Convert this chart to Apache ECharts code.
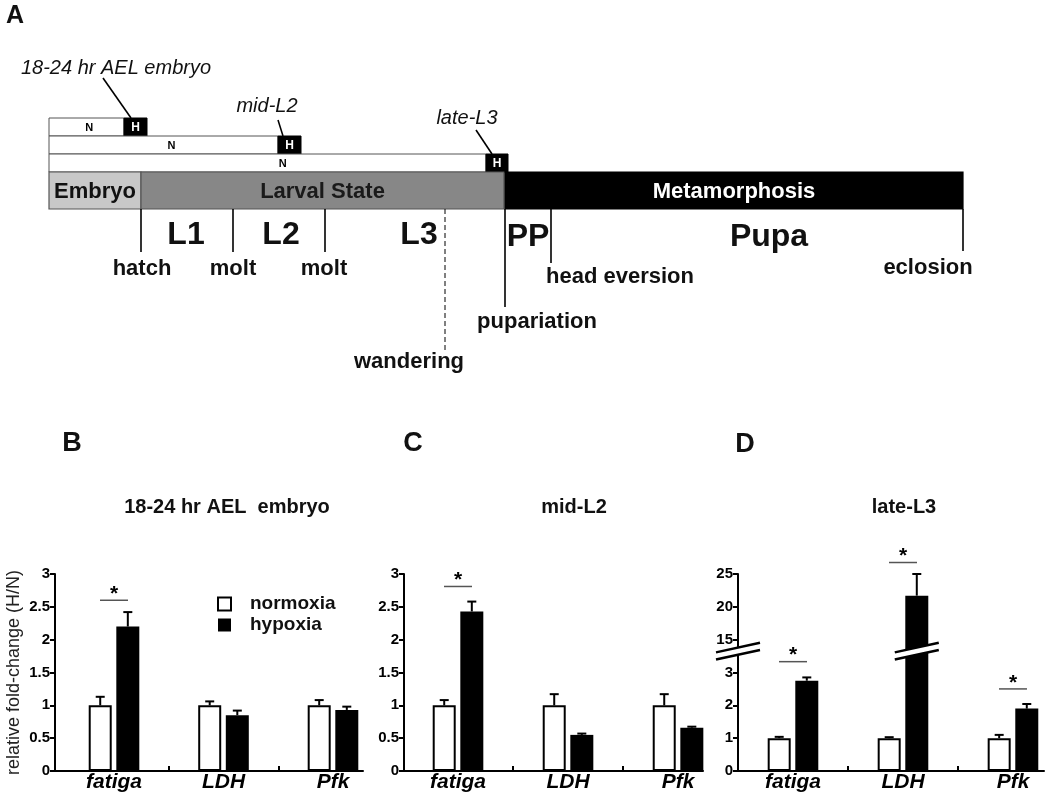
<!DOCTYPE html>
<html>
<head>
<meta charset="utf-8">
<script src="https://cdn.jsdelivr.net/npm/echarts@6/dist/echarts.min.js"></script>
<style>
  html, body { margin: 0; padding: 0; background: #fff; }
  #chart { width: 1047px; height: 800px; }
</style>
</head>
<body>
<div id="chart"></div>
<script>
const FONT = '"Liberation Sans", Arial, sans-serif';

// ---- bar panels B, C, D ----
const genes = ['fatiga', 'LDH', 'Pfk'];

// B: 18-24 hr AEL embryo
const embryoN = [1.0, 1.0, 1.0];
const embryoNErr = [0.13, 0.06, 0.08];
const embryoH = [2.2, 0.85, 0.93];
const embryoHErr = [0.22, 0.07, 0.05];
const embryoSig = [2.6, null, null];

// C: mid-L2
const midL2N = [1.0, 1.0, 1.0];
const midL2NErr = [0.08, 0.17, 0.17];
const midL2H = [2.43, 0.55, 0.66];
const midL2HErr = [0.15, 0.02, 0.015];
const midL2Sig = [2.81, null, null];

// D: late-L3 (broken axis 3 -> 15)
const lateL3N = [1.0, 1.0, 1.0];
const lateL3NErr = [0.04, 0.03, 0.1];
const lateL3H = [2.75, 21.7, 1.9];
const lateL3HErr = [0.1, 3.3, 0.14];
const lateL3Sig = [3.33, 6.35, 2.5]; // in axis steps, not values
const ticksD = ['0', '1', '2', '3', '15', '20', '25'];

// ---- panel A: schematic timeline (arbitrary time units) ----
const phaseNames = ['Embryo', 'Larval State', 'Metamorphosis'];
const phaseStart = [0, 92, 456];
const phaseEnd = [92, 455, 914];
const instarNames = ['L1', 'L2', 'L3', 'PP', 'Pupa'];
const instarPos = [137, 232, 370, 479, 720];
const eventNames = ['hatch', 'molt', 'molt', 'wandering', 'pupariation', 'head eversion', 'eclosion'];
const eventPos = [92, 184, 276, 396, 456, 502, 914];
const stageNames = ['18-24 hr AEL embryo', 'mid-L2', 'late-L3'];
const hypoxiaStart = [75, 229, 437];
const hypoxiaEnd = [98, 252, 459];

// layout for the schematic (page px in y, time units in x)
const rowTop = [118, 136, 154];
const rowH = 18;
const phaseTop = 172, phaseBottom = 209;
const phaseFill = ['#c8c8c8', '#878787', '#000'];
const phaseStroke = ['#555', '#555', '#000'];
const phaseText = ['#111', '#1a1a1a', '#fff'];
const eventDrop = [252, 252, 252, 353, 307, 263, 251];
const eventLabelDx = [1, 0, -1, -36, 32, 69, -35];
const eventLabelY = [269, 269, 269, 362, 322, 277, 268];
const instarY = [235, 235, 235, 237, 237];
const pointerFrom = [[-21, 78], [0, 120], [-10, 130]];
const pointerToDx = [7, 5, 6];
const stageLabel = [[-8, 68], [-11, 106], [-19, 118]];

const chart = echarts.init(document.getElementById('chart'));

function brokenD(v) {
  return v <= 3 ? v : 4 + (v - 15) / 5;
}
const identity = v => v;

const panels = [
  { n: embryoN, nErr: embryoNErr, h: embryoH, hErr: embryoHErr, sig: embryoSig, f: identity },
  { n: midL2N, nErr: midL2NErr, h: midL2H, hErr: midL2HErr, sig: midL2Sig, f: identity },
  { n: lateL3N, nErr: lateL3NErr, h: lateL3H, hErr: lateL3HErr, sig: lateL3Sig, f: brokenD }
];
const gridLeft = [55, 404, 738];
const gridWidth = [308, 299, 306];
const xMin = [-0.539, -0.491, -0.5];
const xMax = [2.274, 2.227, 2.282];
const BAR_W = 23, HALF = 13.8;

const grids = [], xAxes = [], yAxes = [], series = [];

panels.forEach((p, i) => {
  grids.push({ left: gridLeft[i], top: 574, width: gridWidth[i], height: 197 });
  xAxes.push({
    type: 'value', gridIndex: i, min: xMin[i], max: xMax[i],
    axisLine: { show: true, onZero: false, lineStyle: { color: '#000', width: 2 } },
    axisTick: { show: true, inside: true, length: 5, customValues: [0.5, 1.5], lineStyle: { color: '#000', width: 2 } },
    axisLabel: {
      show: true, customValues: [0, 1, 2], formatter: v => genes[Math.round(v)],
      margin: 1, color: '#000', fontSize: 21, fontWeight: 'bold', fontStyle: 'italic', fontFamily: FONT
    },
    splitLine: { show: false }
  });
  yAxes.push({
    type: 'value', gridIndex: i, min: 0, max: i < 2 ? 3 : 6, interval: i < 2 ? 0.5 : 1,
    axisLine: { show: true, onZero: false, lineStyle: { color: '#000', width: 2 } },
    axisTick: { show: true, length: 5, lineStyle: { color: '#000', width: 2 } },
    axisLabel: {
      margin: 5, color: '#000', fontSize: 15, fontWeight: 'bold', fontFamily: FONT,
      formatter: i < 2 ? (v => String(v)) : (v => ticksD[v])
    },
    splitLine: { show: false },
    name: i === 0 ? 'relative fold-change (H/N)' : '',
    nameLocation: 'middle', nameGap: 32,
    nameTextStyle: { fontSize: 18, color: '#222', fontFamily: FONT }
  });

  series.push({
    type: 'bar', name: 'normoxia', xAxisIndex: i, yAxisIndex: i,
    barWidth: BAR_W, barGap: '20%', silent: true,
    itemStyle: { color: '#fff', borderColor: '#000', borderWidth: 2 },
    data: genes.map((g, j) => [j, p.f(p.n[j])])
  });
  series.push({
    type: 'bar', name: 'hypoxia', xAxisIndex: i, yAxisIndex: i,
    barWidth: BAR_W, barGap: '20%', silent: true,
    itemStyle: { color: '#000' },
    data: genes.map((g, j) => [j, p.f(p.h[j])])
  });

  const errData = [];
  genes.forEach((g, j) => {
    errData.push([j, p.f(p.n[j]), p.f(p.n[j] + p.nErr[j]), -1]);
    errData.push([j, p.f(p.h[j]), p.f(p.h[j] + p.hErr[j]), 1]);
  });
  series.push({
    type: 'custom', xAxisIndex: i, yAxisIndex: i, silent: true, z: 3,
    data: errData,
    renderItem(params, api) {
      const lo = api.coord([api.value(0), api.value(1)]);
      const hi = api.coord([api.value(0), api.value(2)]);
      const x = lo[0] + api.value(3) * HALF;
      const st = { stroke: '#000', lineWidth: 2 };
      return {
        type: 'group', children: [
          { type: 'line', shape: { x1: x, y1: lo[1], x2: x, y2: hi[1] }, style: st },
          { type: 'line', shape: { x1: x - 4.5, y1: hi[1], x2: x + 4.5, y2: hi[1] }, style: st }
        ]
      };
    }
  });

  series.push({
    type: 'custom', xAxisIndex: i, yAxisIndex: i, silent: true, z: 3,
    data: p.sig.map((s, j) => [j, s]).filter(d => d[1] !== null),
    renderItem(params, api) {
      const c = api.coord([api.value(0), api.value(1)]);
      return {
        type: 'group', children: [
          { type: 'line', shape: { x1: c[0] - 14, y1: c[1], x2: c[0] + 14, y2: c[1] }, style: { stroke: '#555', lineWidth: 1.5 } },
          { type: 'text', style: { text: '*', x: c[0], y: c[1] - 6, align: 'center', verticalAlign: 'middle', font: 'bold 21px ' + FONT, fill: '#000' } }
        ]
      };
    }
  });
});

// break marks on panel D (axis line and the tall LDH bar)
const breakMarksD = [[xMin[2], 3.65, 0], [1, 3.65, 1]];
series.push({
  type: 'custom', xAxisIndex: 2, yAxisIndex: 2, silent: true, z: 5,
  data: breakMarksD,
  renderItem(params, api) {
    const c = api.coord([api.value(0), api.value(1)]);
    const cx = c[0] + api.value(2) * HALF, cy = c[1];
    const dx = 22, dy = 4.8, t = 3.6;
    return {
      type: 'group', children: [
        { type: 'polygon', shape: { points: [[cx - dx, cy + dy - t], [cx + dx, cy - dy - t], [cx + dx, cy - dy + t], [cx - dx, cy + dy + t]] }, style: { fill: '#fff' } },
        { type: 'line', shape: { x1: cx - dx, y1: cy + dy - t, x2: cx + dx, y2: cy - dy - t }, style: { stroke: '#000', lineWidth: 2.5 } },
        { type: 'line', shape: { x1: cx - dx, y1: cy + dy + t, x2: cx + dx, y2: cy - dy + t }, style: { stroke: '#000', lineWidth: 2.5 } }
      ]
    };
  }
});

// ---- panel A ----
grids.push({ left: 49, top: 40, width: 914, height: 340 });
xAxes.push({ type: 'value', gridIndex: 3, min: 0, max: 914, show: false });
yAxes.push({ type: 'value', gridIndex: 3, min: 40, max: 380, inverse: true, show: false });

// exposure rows (N then H)
series.push({
  type: 'custom', xAxisIndex: 3, yAxisIndex: 3, silent: true,
  data: stageNames.map((s, i) => [hypoxiaStart[i], hypoxiaEnd[i]]),
  renderItem(params, api) {
    const i = params.dataIndex;
    const s = api.value(0), e = api.value(1);
    const a = api.coord([0, rowTop[i]]);
    const b = api.coord([s, rowTop[i] + rowH]);
    const c = api.coord([e, rowTop[i]]);
    const pf = api.coord([s + pointerFrom[i][0], pointerFrom[i][1]]);
    const pt = api.coord([s + pointerToDx[i], rowTop[i]]);
    const lb = api.coord([s + stageLabel[i][0], stageLabel[i][1]]);
    return {
      type: 'group', children: [
        { type: 'rect', shape: { x: a[0], y: a[1], width: b[0] - a[0], height: b[1] - a[1] }, style: { fill: '#fff', stroke: '#555', lineWidth: 1 } },
        { type: 'rect', shape: { x: b[0], y: a[1], width: c[0] - b[0], height: b[1] - a[1] }, style: { fill: '#000', stroke: '#000', lineWidth: 1 } },
        { type: 'text', style: { text: 'N', x: a[0] + 0.535 * (b[0] - a[0]), y: (a[1] + b[1]) / 2 + 1, align: 'center', verticalAlign: 'middle', font: 'bold 11px ' + FONT, fill: '#000' } },
        { type: 'text', style: { text: 'H', x: (b[0] + c[0]) / 2, y: (a[1] + b[1]) / 2 + 1, align: 'center', verticalAlign: 'middle', font: 'bold 12px ' + FONT, fill: '#fff' } },
        { type: 'line', shape: { x1: pf[0], y1: pf[1], x2: pt[0], y2: pt[1] }, style: { stroke: '#000', lineWidth: 1.6 } },
        { type: 'text', style: { text: stageNames[i], x: lb[0], y: lb[1], align: 'center', verticalAlign: 'middle', font: 'italic 20px ' + FONT, fill: '#111' } }
      ]
    };
  }
});

// developmental phases
series.push({
  type: 'custom', xAxisIndex: 3, yAxisIndex: 3, silent: true,
  data: phaseNames.map((n, i) => [phaseStart[i], phaseEnd[i]]),
  renderItem(params, api) {
    const i = params.dataIndex;
    const p0 = api.coord([api.value(0), phaseTop]);
    const p1 = api.coord([api.value(1), phaseBottom]);
    return {
      type: 'group', children: [
        { type: 'rect', shape: { x: p0[0], y: p0[1], width: p1[0] - p0[0], height: p1[1] - p0[1] }, style: { fill: phaseFill[i], stroke: phaseStroke[i], lineWidth: 1.2 } },
        { type: 'text', style: { text: phaseNames[i], x: (p0[0] + p1[0]) / 2, y: (p0[1] + p1[1]) / 2 + 1, align: 'center', verticalAlign: 'middle', font: 'bold 22px ' + FONT, fill: phaseText[i] } }
      ]
    };
  }
});

// event ticks and labels
series.push({
  type: 'custom', xAxisIndex: 3, yAxisIndex: 3, silent: true,
  data: eventNames.map((n, i) => [eventPos[i]]),
  renderItem(params, api) {
    const i = params.dataIndex;
    const t = api.value(0);
    const p0 = api.coord([t, phaseBottom]);
    const p1 = api.coord([t, eventDrop[i]]);
    const lb = api.coord([t + eventLabelDx[i], eventLabelY[i]]);
    return {
      type: 'group', children: [
        { type: 'line', shape: { x1: p0[0], y1: p0[1], x2: p1[0], y2: p1[1] }, style: { stroke: '#000', lineWidth: i === 3 ? 1 : 1.6, lineDash: i === 3 ? [5, 3] : null } },
        { type: 'text', style: { text: eventNames[i], x: lb[0], y: lb[1], align: 'center', verticalAlign: 'middle', font: 'bold 22px ' + FONT, fill: '#111' } }
      ]
    };
  }
});

// instar labels
series.push({
  type: 'custom', xAxisIndex: 3, yAxisIndex: 3, silent: true,
  data: instarNames.map((n, i) => [instarPos[i], instarY[i]]),
  renderItem(params, api) {
    const c = api.coord([api.value(0), api.value(1)]);
    return { type: 'text', style: { text: instarNames[params.dataIndex], x: c[0], y: c[1], align: 'center', verticalAlign: 'middle', font: 'bold 32px ' + FONT, fill: '#111' } };
  }
});

const titleStyle = (size) => ({ fontSize: size, fontWeight: 'bold', color: '#111', fontFamily: FONT });
const option = {
  backgroundColor: '#fff',
  animation: false,
  title: [
    { text: 'A', left: 15, top: 4, textAlign: 'center', padding: 0, textStyle: titleStyle(25) },
    { text: 'B', left: 72, top: 430, textAlign: 'center', padding: 0, textStyle: titleStyle(27) },
    { text: 'C', left: 413, top: 430, textAlign: 'center', padding: 0, textStyle: titleStyle(27) },
    { text: 'D', left: 745, top: 431, textAlign: 'center', padding: 0, textStyle: titleStyle(27) },
    { text: '18-24 hr AEL  embryo', left: 227, top: 497, textAlign: 'center', padding: 0, textStyle: titleStyle(20) },
    { text: 'mid-L2', left: 574, top: 497, textAlign: 'center', padding: 0, textStyle: titleStyle(20) },
    { text: 'late-L3', left: 904, top: 497, textAlign: 'center', padding: 0, textStyle: titleStyle(20) }
  ],
  legend: {
    data: [
      { name: 'normoxia', itemStyle: { color: '#fff', borderColor: '#000', borderWidth: 2 } },
      { name: 'hypoxia', itemStyle: { color: '#000', borderColor: '#000', borderWidth: 0 } }
    ],
    orient: 'vertical', left: 217, top: 594, icon: 'rect',
    itemWidth: 13, itemHeight: 13, itemGap: 1, padding: 0, selectedMode: false,
    textStyle: { fontSize: 19, lineHeight: 20, fontWeight: 'bold', color: '#111', fontFamily: FONT, padding: [0, 0, 0, 14] }
  },
  grid: grids,
  xAxis: xAxes,
  yAxis: yAxes,
  series: series
};

chart.setOption(option);
</script>
</body>
</html>
